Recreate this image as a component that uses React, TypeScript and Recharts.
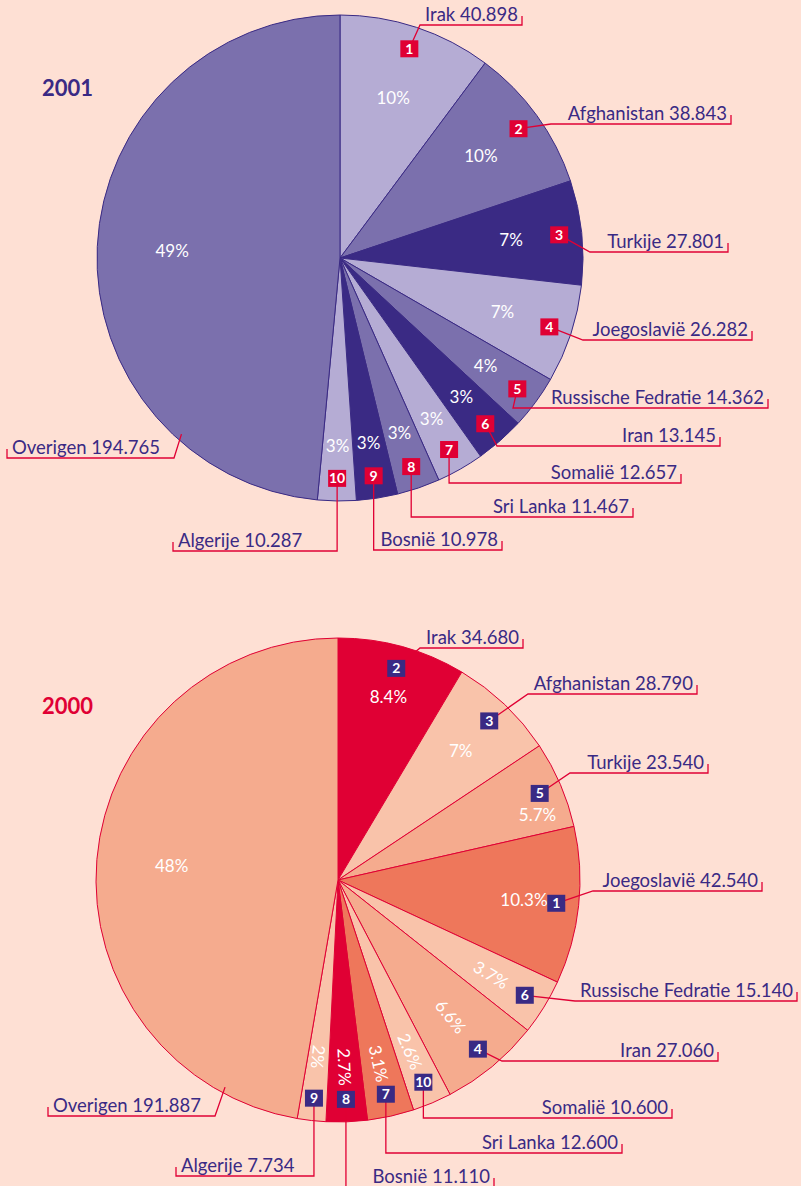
import React from 'react';
import { PieChart, Pie, Cell } from 'recharts';

const countries = ['Irak', 'Afghanistan', 'Turkije', 'Joegoslavië', 'Russische Fedratie', 'Iran', 'Somalië', 'Sri Lanka', 'Bosnië', 'Algerije', 'Overigen'];

const values2001 = [40898, 38843, 27801, 26282, 14362, 13145, 12657, 11467, 10978, 10287, 194765];
const percents2001 = ['10%', '10%', '7%', '7%', '4%', '3%', '3%', '3%', '3%', '3%', '49%'];
const ranks2001 = [1, 2, 3, 4, 5, 6, 7, 8, 9, 10, 0];

const values2000 = [34680, 28790, 23540, 42540, 15140, 27060, 10600, 12600, 11110, 7734, 191887];
const percents2000 = ['8.4%', '7%', '5.7%', '10.3%', '3.7%', '6.6%', '2.6%', '3.1%', '2.7%', '2%', '48%'];
const ranks2000 = [2, 3, 5, 1, 6, 4, 10, 7, 8, 9, 0];

// colours
const BG = '#FEE0D4';
const PURPLE = '#3A2A84';
const RED = '#E00034';
const colors2001 = ['#B5ACD4', '#7B70AD', PURPLE, '#B5ACD4', '#7B70AD', PURPLE, '#B5ACD4', '#7B70AD', PURPLE, '#B5ACD4', '#7B70AD'];
const colors2000 = [RED, '#F9C3AA', '#F5AB8E', '#EE775B', '#F9C3AA', '#F5AB8E', '#F9C3AA', '#EE775B', RED, '#F9C3AA', '#F5AB8E'];

// callout layout: underline y, kink x (or drop straight down from the box), end x of the underline
type Callout = { y: number; kink?: number; end: number; drop?: boolean; from?: number };
const callouts2001: Callout[] = [
  { y: 25, kink: 420, end: 522 },
  { y: 124, kink: 551, end: 731 },
  { y: 252, kink: 590, end: 728 },
  { y: 340, kink: 583, end: 752 },
  { y: 408, kink: 513, end: 768 },
  { y: 446, kink: 497, end: 720 },
  { y: 483, drop: true, end: 681 },
  { y: 517, drop: true, end: 633 },
  { y: 550, drop: true, end: 502 },
  { y: 551, drop: true, end: 173 },
  { y: 458, kink: 174, end: 7, from: -132 },
];
const callouts2000: Callout[] = [
  { y: 648, kink: 420, end: 523 },
  { y: 694, kink: 528, end: 697 },
  { y: 773, kink: 570, end: 708 },
  { y: 891, kink: 593, end: 762 },
  { y: 1001, kink: 575, end: 797 },
  { y: 1061, kink: 502, end: 718 },
  { y: 1118, drop: true, end: 672 },
  { y: 1153, drop: true, end: 622 },
  { y: 1187, drop: true, end: 494 },
  { y: 1176, drop: true, end: 176 },
  { y: 1116, kink: 215, end: 48, from: -118.6 },
];
// percent label placement: radius and angle shift (degrees, clockwise)
const pctRadius2001 = [169, 174, 172, 171, 181, 184, 185, 184, 187, 188, 168];
const pctShift2001 = [0, 0, 0, 0, 0, 0, 0, 0, 0, 0, 0];
const pctRadius2000 = [190, 178, 210, 187, 180, 177, 186, 188, 187, 178, 167];
const pctShift2000 = [0, 0, 5, 0, 0, 0, 0, 0, 0, 0, 0];
const rotated2000 = [false, false, false, false, true, true, true, true, true, true, false];

const FONT = 'Lato, "Open Sans", sans-serif';
const RAD = Math.PI / 180;
const fmt = (v: number) => String(v).replace(/\B(?=(\d{3})+(?!\d))/g, '.');

const data2001 = countries.map((name, i) => ({ name, value: values2001[i], pct: percents2001[i], rank: ranks2001[i] }));
const data2000 = countries.map((name, i) => ({ name, value: values2000[i], pct: percents2000[i], rank: ranks2000[i] }));

function polar(cx: number, cy: number, r: number, angle: number) {
  return [cx + r * Math.cos(-angle * RAD), cy + r * Math.sin(-angle * RAD)];
}

function makeLabel(callouts: Callout[], pctR: number[], pctShift: number[], rotated: boolean[] | null, boxFill: string) {
  return (p: any) => {
    const i = p.index;
    const d = p.payload;
    const c = callouts[i];
    const pa = p.midAngle - pctShift[i];
    const [px, py] = polar(p.cx, p.cy, pctR[i], pa);
    const rot = rotated && rotated[i] ? `rotate(${-pa} ${px} ${py})` : undefined;

    let sx: number, sy: number;
    if (c.from !== undefined) {
      [sx, sy] = polar(p.cx, p.cy, p.outerRadius * 0.975, c.from);
    } else {
      [sx, sy] = polar(p.cx, p.cy, p.outerRadius * 0.907, p.midAngle);
    }
    const kx = c.drop ? sx : (c.kink as number);
    const right = c.end > kx;
    const label = `${d.name} ${fmt(d.value)}`;

    return (
      <g>
        <text x={px} y={py} transform={rot} textAnchor="middle" dominantBaseline="central" fill="#fff" fontSize={17} fontFamily={FONT}>
          {d.pct}
        </text>
        <polyline
          points={`${sx},${sy} ${kx},${c.y} ${c.end},${c.y} ${c.end},${c.y - 9}`}
          fill="none" stroke={RED} strokeWidth={1.3} />
        {d.rank > 0 && (
          <g>
            <rect x={sx - 9} y={sy - 8.5} width={18} height={17} fill={boxFill} />
            <text x={sx} y={sy + 5} textAnchor="middle" fill="#fff" fontSize={14} fontWeight={700} fontFamily={FONT}>
              {d.rank}
            </text>
          </g>
        )}
        <text x={right ? c.end - 4 : c.end + 5} y={c.y - 4} textAnchor={right ? 'end' : 'start'}
          fill={PURPLE} fontSize={18.5} fontFamily={FONT}>
          {label}
        </text>
      </g>
    );
  };
}

export default function App() {
  return (
    <div style={{ position: 'absolute', left: 0, top: 0, width: 801, height: 1186, background: BG, overflow: 'hidden' }}>
      <PieChart width={801} height={1186} margin={{ top: 0, right: 0, bottom: 0, left: 0 }}>
        <Pie data={data2001} dataKey="value" nameKey="name" cx={340} cy={258} outerRadius={243}
          startAngle={90} endAngle={-270} stroke={PURPLE} strokeWidth={1}
          labelLine={false} label={makeLabel(callouts2001, pctRadius2001, pctShift2001, null, RED)} isAnimationActive={false}>
          {data2001.map((d, i) => <Cell key={d.name} fill={colors2001[i]} />)}
        </Pie>
        <Pie data={data2000} dataKey="value" nameKey="name" cx={338} cy={880} outerRadius={242}
          startAngle={90} endAngle={-270} stroke={RED} strokeWidth={1}
          labelLine={false} label={makeLabel(callouts2000, pctRadius2000, pctShift2000, rotated2000, PURPLE)} isAnimationActive={false}>
          {data2000.map((d, i) => <Cell key={d.name} fill={colors2000[i]} />)}
        </Pie>
      </PieChart>
      <svg width={801} height={1186} style={{ position: 'absolute', left: 0, top: 0, pointerEvents: 'none' }}>
        <text x={42} y={96} fill={PURPLE} fontSize={22} fontWeight={700} fontFamily={FONT}>2001</text>
        <text x={42} y={714} fill={RED} fontSize={22} fontWeight={700} fontFamily={FONT}>2000</text>
      </svg>
    </div>
  );
}
